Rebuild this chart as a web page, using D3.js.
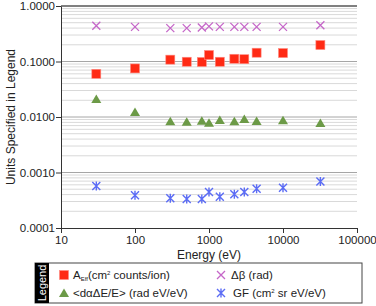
<!DOCTYPE html>
<html>
<head>
<meta charset="utf-8">
<script src="https://cdn.jsdelivr.net/npm/d3@7"></script>
<style>
  body { margin: 0; background: #fff; }
  svg { font-family: "Liberation Sans", Arial, sans-serif; }
</style>
</head>
<body>
<div id="chart"></div>
<script>
// energies (eV)
const energies = [30, 100, 300, 500, 800, 1000, 1400, 2200, 3000, 4400, 10000, 32000];
const aEff = [0.060, 0.075, 0.108, 0.099, 0.098, 0.131, 0.099, 0.112, 0.110, 0.144, 0.142, 0.198];
const dBeta = [0.44, 0.42, 0.40, 0.40, 0.41, 0.43, 0.42, 0.42, 0.42, 0.42, 0.42, 0.45];
const dAlpha = [0.0211, 0.0123, 0.0084, 0.0082, 0.0086, 0.0079, 0.0088, 0.0084, 0.0092, 0.0085, 0.0087, 0.0078];
const gf = [0.00057, 0.00039, 0.000343, 0.000333, 0.000333, 0.000445, 0.000367, 0.000405, 0.000445, 0.000512, 0.00053, 0.00069];
const xTicks = [10, 100, 1000, 10000, 100000];
const yTicks = [0.0001, 0.001, 0.01, 0.1, 1];

const W = 376, H = 306;
const margin = { top: 6, right: 19, bottom: 78, left: 61 };
const width = W - margin.left - margin.right;
const height = H - margin.top - margin.bottom;

const svg = d3.select('#chart').append('svg')
    .attr('width', W)
    .attr('height', H);

const g = svg.append('g')
    .attr('transform', `translate(${margin.left},${margin.top})`);

const x = d3.scaleLog().domain([10, 100000]).range([0, width]);
const y = d3.scaleLog().domain([0.0001, 1]).range([height, 0]);

// minor gridlines
const minor = [];
yTicks.slice(0, -1).forEach(t => {
    for (let k = 2; k <= 9; k++) minor.push(t * k);
});
g.selectAll('.minor')
    .data(minor)
    .enter()
    .append('line')
    .attr('x1', 0).attr('x2', width)
    .attr('y1', d => y(d)).attr('y2', d => y(d))
    .attr('stroke', '#d9d9d9')
    .attr('stroke-width', 1);

g.selectAll('.major')
    .data(yTicks.slice(1, -1))
    .enter()
    .append('line')
    .attr('x1', 0).attr('x2', width)
    .attr('y1', d => y(d)).attr('y2', d => y(d))
    .attr('stroke', '#a6a6a6')
    .attr('stroke-width', 1);

// top line
g.append('line')
    .attr('x1', 0).attr('x2', width)
    .attr('y1', y(1)).attr('y2', y(1))
    .attr('stroke', '#808080')
    .attr('stroke-width', 2);

// axes
const yAxis = g.append('g')
    .call(d3.axisLeft(y).tickValues(yTicks).tickFormat(d3.format('.4f')).tickSize(5).tickSizeOuter(0));
yAxis.select('.domain').attr('stroke', '#333');
yAxis.selectAll('.tick line').attr('stroke', '#333');
yAxis.selectAll('text').style('font-size', '11.5px').attr('fill', '#222').attr('x', -6);

const xAxis = g.append('g')
    .attr('transform', `translate(0,${height})`)
    .call(d3.axisBottom(x).tickValues(xTicks).tickFormat(d3.format('d')).tickSize(5).tickSizeOuter(0));
xAxis.select('.domain').attr('stroke', '#333');
xAxis.selectAll('.tick line').attr('stroke', '#333');
xAxis.selectAll('text').style('font-size', '11.5px').attr('fill', '#222')
    .attr('y', 16).attr('dy', null);

// axis titles
svg.append('text')
    .attr('x', margin.left + width / 2)
    .attr('y', 259)
    .attr('text-anchor', 'middle')
    .style('font-size', '12px')
    .attr('fill', '#222')
    .text('Energy (eV)');

svg.append('text')
    .attr('transform', `translate(15,${margin.top + height / 2}) rotate(-90)`)
    .attr('text-anchor', 'middle')
    .style('font-size', '12px')
    .attr('fill', '#222')
    .text('Units Specified in Legend');

// series
const redC = '#ff2a14', greenC = '#6c9a47', magC = '#c566c8', blueC = '#5b6cf5';

function drawSquare(sel, cx, cy) {
    sel.append('rect')
        .attr('x', cx - 4.5).attr('y', cy - 4.5)
        .attr('width', 9).attr('height', 9)
        .attr('fill', redC)
        .attr('stroke', '#ff8a80').attr('stroke-width', 0.6);
}
function drawTri(sel, cx, cy) {
    sel.append('path')
        .attr('d', `M${cx},${cy - 4.5}L${cx + 5},${cy + 4}L${cx - 5},${cy + 4}Z`)
        .attr('fill', greenC);
}
function drawX(sel, cx, cy) {
    const r = 4;
    sel.append('path')
        .attr('d', `M${cx - r},${cy - r}L${cx + r},${cy + r}M${cx - r},${cy + r}L${cx + r},${cy - r}`)
        .attr('stroke', magC).attr('stroke-width', 1.3).attr('fill', 'none');
}
function drawStar(sel, cx, cy) {
    const r = 4;
    sel.append('path')
        .attr('d', `M${cx - r},${cy - r}L${cx + r},${cy + r}M${cx - r},${cy + r}L${cx + r},${cy - r}M${cx},${cy - r - 0.5}L${cx},${cy + r + 0.5}`)
        .attr('stroke', blueC).attr('stroke-width', 1.4).attr('fill', 'none');
}

const series = [
    { values: dBeta, draw: drawX },
    { values: aEff, draw: drawSquare },
    { values: dAlpha, draw: drawTri },
    { values: gf, draw: drawStar },
];

series.forEach(s => {
    const grp = g.append('g');
    energies.forEach((e, i) => s.draw(grp, x(e), y(s.values[i])));
});

// legend
const lg = svg.append('g').attr('transform', 'translate(35,263)');
const lgW = 327, lgH = 40;
lg.append('rect')
    .attr('width', lgW).attr('height', lgH)
    .attr('fill', '#fff')
    .attr('stroke', '#444').attr('stroke-width', 1);
lg.append('rect')
    .attr('width', 14).attr('height', lgH)
    .attr('fill', '#000');
lg.append('text')
    .attr('transform', `translate(11,${lgH / 2}) rotate(-90)`)
    .attr('text-anchor', 'middle')
    .attr('fill', '#fff')
    .style('font-size', '11px')
    .text('Legend');

drawSquare(lg, 29, 12);
drawTri(lg, 29, 30);
drawX(lg, 186, 12);
drawStar(lg, 186, 30);

const t1 = lg.append('text').attr('x', 38).attr('y', 16).style('font-size', '11.5px').attr('fill', '#222');
t1.append('tspan').text('A');
t1.append('tspan').attr('dy', 2).style('font-size', '6px').text('Eff');
t1.append('tspan').attr('dy', -2).text('(cm');
t1.append('tspan').attr('dy', -4).style('font-size', '6px').text('2');
t1.append('tspan').attr('dy', 4).text(' counts/ion)');

lg.append('text').attr('x', 38).attr('y', 34).style('font-size', '11.5px').attr('fill', '#222')
    .text('<d\u03b1\u0394E/E> (rad eV/eV)');

lg.append('text').attr('x', 196).attr('y', 16).style('font-size', '11.5px').attr('fill', '#222')
    .text('\u0394\u03b2 (rad)');

const t4 = lg.append('text').attr('x', 198).attr('y', 34).style('font-size', '11.5px').attr('fill', '#222');
t4.append('tspan').text('GF (cm');
t4.append('tspan').attr('dy', -4).style('font-size', '6px').text('2');
t4.append('tspan').attr('dy', 4).text(' sr eV/eV)');
</script>
</body>
</html>
